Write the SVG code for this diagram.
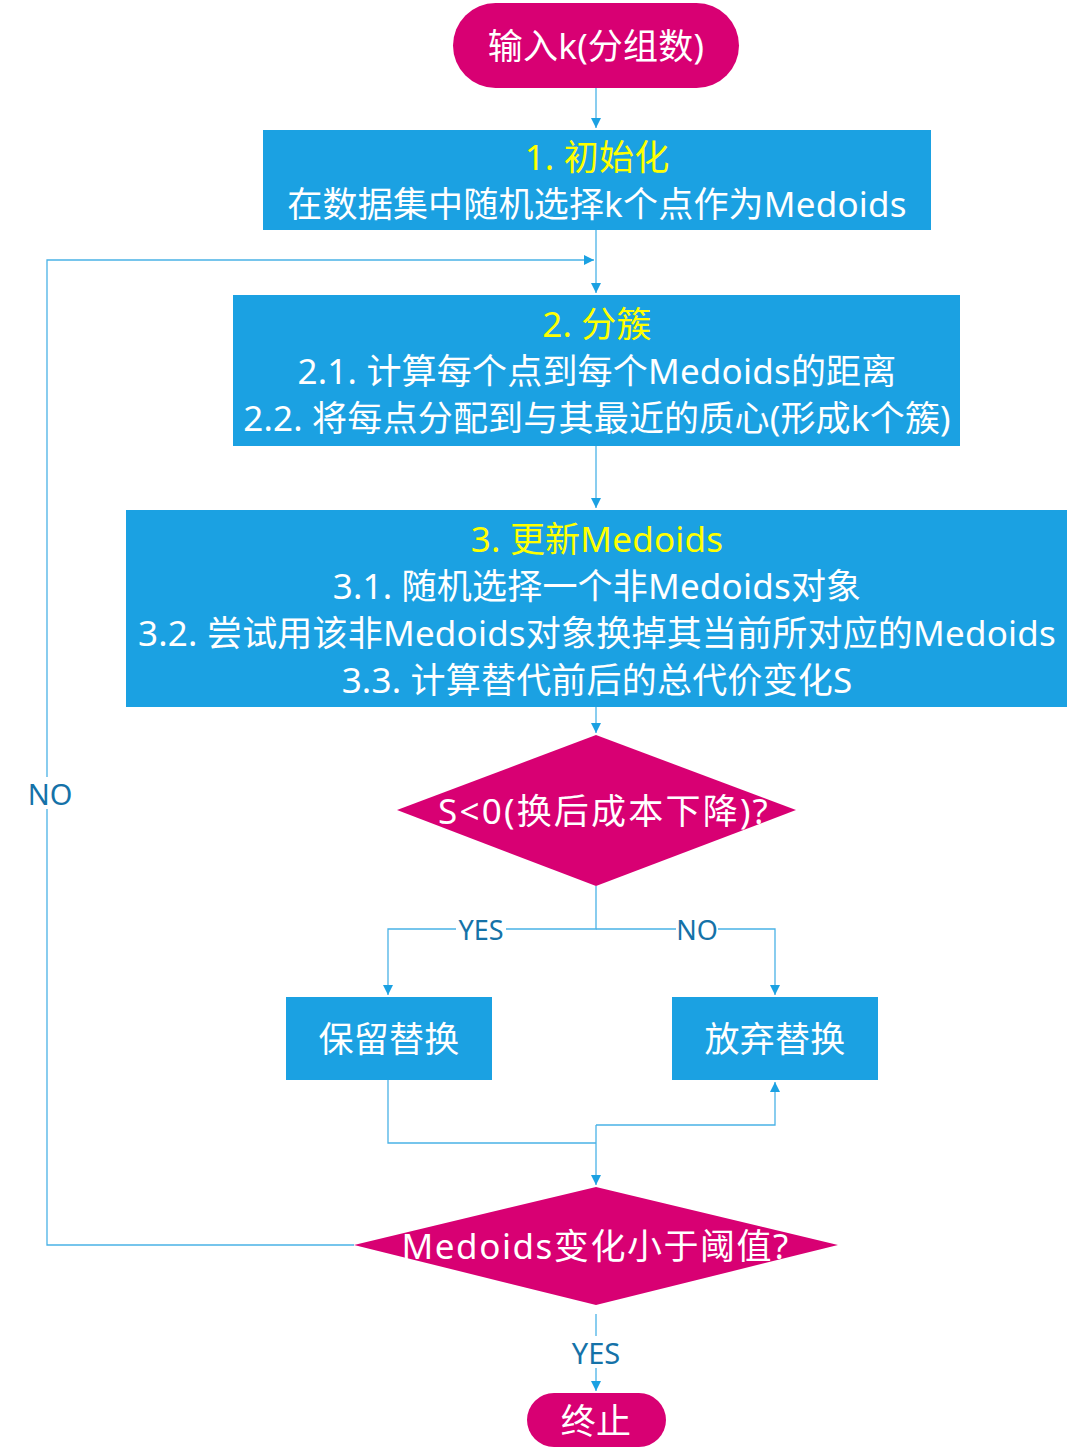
<svg xmlns="http://www.w3.org/2000/svg" width="1073" height="1456" viewBox="0 0 1073 1456">
  <defs>
    <marker id="arrow" viewBox="0 0 10 10" refX="10" refY="5" markerWidth="10" markerHeight="10" markerUnits="userSpaceOnUse" orient="auto">
      <path d="M0,0 L10,5 L0,10 Z" fill="#1ba1e2"/>
    </marker>
    <style>
      text { font-family: "Noto Sans", "Noto Sans CJK SC", sans-serif; text-anchor: middle; dominant-baseline: central; }
      .box { fill: #1ba1e2; }
      .mag { fill: #d80073; }
      .w { fill: #ffffff; font-size: 35px; letter-spacing: 0.2px; }
      .y { fill: #ffff00; font-size: 35px; letter-spacing: 0.2px; }
      .conn { fill: none; stroke: #4ab2e6; stroke-width: 1.3; }
      .lbl { fill: #1572a8; font-size: 27px; }
      .lbl-lg { fill: #1572a8; font-size: 29px; }
      .lblbg { fill: #ffffff; }
    </style>
  </defs>
  <rect width="1073" height="1456" fill="#ffffff"/>

  <g id="connectors">
    <path class="conn" d="M596,88 V128" marker-end="url(#arrow)"/>
    <path class="conn" d="M596,230 V293" marker-end="url(#arrow)"/>
    <path class="conn" d="M354,1245 H47 V260 H594" marker-end="url(#arrow)"/>
    <path class="conn" d="M596,446 V508" marker-end="url(#arrow)"/>
    <path class="conn" d="M596,707 V733" marker-end="url(#arrow)"/>
    <path class="conn" d="M596,886 V929 H388 V995" marker-end="url(#arrow)"/>
    <path class="conn" d="M596,929 H775 V995" marker-end="url(#arrow)"/>
    <path class="conn" d="M388,1080 V1143 H596"/>
    <path class="conn" d="M596,1125 V1185" marker-end="url(#arrow)"/>
    <path class="conn" d="M596,1125 H775 V1082" marker-end="url(#arrow)"/>
    <path class="conn" d="M596,1314 V1391" marker-end="url(#arrow)"/>
    <!-- edge labels -->
    <rect class="lblbg" x="456" y="914" width="50" height="30"/>
    <text class="lbl" x="481" y="929">YES</text>
    <rect class="lblbg" x="676" y="914" width="42" height="30"/>
    <text class="lbl" x="697" y="929">NO</text>
    <rect class="lblbg" x="24" y="777" width="52" height="32"/>
    <text class="lbl-lg" x="50" y="793">NO</text>
    <rect class="lblbg" x="568" y="1336" width="56" height="32"/>
    <text class="lbl-lg" x="596" y="1352">YES</text>
  </g>

  <g id="start">
    <rect class="mag" x="453" y="3" width="286" height="85" rx="42.5"/>
    <text class="w" x="596" y="45">输入k(分组数)</text>
  </g>

  <g id="init">
    <rect class="box" x="263" y="130" width="668" height="100"/>
    <text class="y" x="597" y="156">1. 初始化</text>
    <text class="w" x="597" y="203">在数据集中随机选择k个点作为Medoids</text>
  </g>

  <g id="cluster">
    <rect class="box" x="233" y="295" width="727" height="151"/>
    <text class="y" x="597" y="323">2. 分簇</text>
    <text class="w" x="597" y="370">2.1. 计算每个点到每个Medoids的距离</text>
    <text class="w" x="597" y="417">2.2. 将每点分配到与其最近的质心(形成k个簇)</text>
  </g>

  <g id="update">
    <rect class="box" x="126" y="510" width="941" height="197"/>
    <text class="y" x="597" y="538">3. 更新Medoids</text>
    <text class="w" x="597" y="585">3.1. 随机选择一个非Medoids对象</text>
    <text class="w" x="597" y="632">3.2. 尝试用该非Medoids对象换掉其当前所对应的Medoids</text>
    <text class="w" x="597" y="679">3.3. 计算替代前后的总代价变化S</text>
  </g>

  <g id="decision-cost">
    <polygon class="mag" points="596,735 796,810 596,886 397,810"/>
    <text class="w" x="603" y="810" textLength="330" lengthAdjust="spacing">S&lt;0(换后成本下降)?</text>
  </g>

  <g id="keep">
    <rect class="box" x="286" y="997" width="206" height="83"/>
    <text class="w" x="389" y="1038">保留替换</text>
  </g>

  <g id="discard">
    <rect class="box" x="672" y="997" width="206" height="83"/>
    <text class="w" x="775" y="1038">放弃替换</text>
  </g>

  <g id="decision-converge">
    <polygon class="mag" points="596,1187 838,1245 596,1305 354,1245"/>
    <text class="w" x="595" y="1245" textLength="387" lengthAdjust="spacing">Medoids变化小于阈值?</text>
  </g>

  <g id="end">
    <rect class="mag" x="527" y="1393" width="139" height="54" rx="27"/>
    <text class="w" x="596" y="1420">终止</text>
  </g>
</svg>
